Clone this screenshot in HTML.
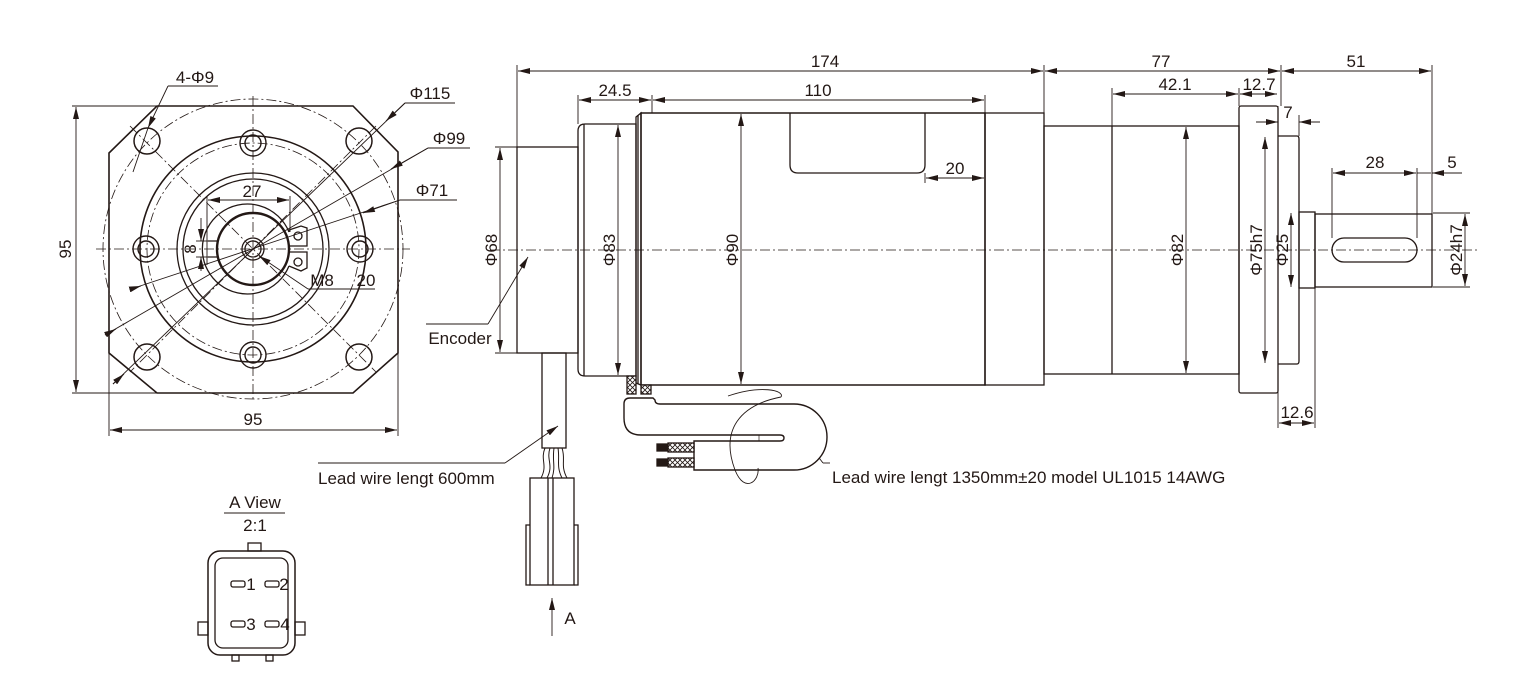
<!DOCTYPE html>
<html><head><meta charset="utf-8"><style>
html,body{margin:0;padding:0;background:#fff;}
svg{display:block;}
text{font-family:"Liberation Sans Narrow","Liberation Sans",sans-serif;font-size:17px;fill:#231815;}
</style></head><body>
<svg width="1517" height="695" viewBox="0 0 1517 695" xmlns="http://www.w3.org/2000/svg">
<defs>
<marker id="a" viewBox="0 0 12 6" refX="12" refY="3" markerWidth="12" markerHeight="6" orient="auto-start-reverse" markerUnits="userSpaceOnUse"><path d="M0,0L12,3L0,6z" fill="#231815"/></marker>
<pattern id="h" width="5" height="5" patternUnits="userSpaceOnUse"><rect width="5" height="5" fill="#fff"/><path d="M0,0L5,5M5,0L0,5" stroke="#231815" stroke-width="0.8"/></pattern>
</defs>
<g fill="none" stroke="#231815" stroke-width="1.3">
<!-- FRONT VIEW -->
<path d="M157,106 L353,106 L398,152 L398,353 L353,393 L157,393 L109,353 L109,153 Z" stroke-width="1.6"/>
<g stroke-width="0.8" stroke-dasharray="10,3,2,3">
<circle cx="253" cy="249" r="150"/>
<circle cx="253" cy="249" r="106"/>
<line x1="253" y1="96" x2="253" y2="402"/>
<line x1="96" y1="249" x2="410" y2="249"/>
<line x1="130" y1="126" x2="376" y2="372"/>
<line x1="376" y1="126" x2="130" y2="372"/>
</g>
<circle cx="253" cy="249" r="113" stroke-width="1.6"/>
<circle cx="253" cy="249" r="76"/>
<circle cx="253" cy="249" r="70"/>
<circle cx="253" cy="249" r="36" stroke-width="2.4"/>
<path d="M289,232 A45,45 0 1 0 289,266" />
<path d="M289,232 L289,230 L301,226 L307,228 L307,246 L289,246 M289,252 L307,252 L307,268 L301,271 L289,266"/>
<circle cx="298" cy="236" r="4"/><circle cx="298" cy="262" r="4"/>
<path d="M208,241 L218,241 M208,257 L218,257"/>
<circle cx="253" cy="249" r="11"/><circle cx="253" cy="249" r="8"/>
<g stroke-width="1.5">
<circle cx="147" cy="141" r="13"/><circle cx="359" cy="141" r="13"/>
<circle cx="147" cy="357" r="13"/><circle cx="359" cy="357" r="13"/>
</g>
<g stroke-width="1.4">
<circle cx="253" cy="143" r="13"/><circle cx="253" cy="143" r="8"/>
<circle cx="253" cy="355" r="13"/><circle cx="253" cy="355" r="8"/>
<circle cx="146" cy="249" r="13"/><circle cx="146" cy="249" r="8"/>
<circle cx="360" cy="249" r="13"/><circle cx="360" cy="249" r="8"/>
</g>
<!-- front dims -->
<g stroke-width="0.9">
<line x1="72" y1="106" x2="157" y2="106"/><line x1="72" y1="393" x2="157" y2="393"/>
<line x1="76" y1="107" x2="76" y2="392" marker-start="url(#a)" marker-end="url(#a)"/>
<line x1="109" y1="353" x2="109" y2="436"/><line x1="398" y1="353" x2="398" y2="436"/>
<line x1="110" y1="430" x2="397" y2="430" marker-start="url(#a)" marker-end="url(#a)"/>
<line x1="207" y1="196" x2="207" y2="265"/><line x1="290" y1="196" x2="290" y2="232"/>
<line x1="208" y1="200" x2="289" y2="200" marker-start="url(#a)" marker-end="url(#a)"/>
<line x1="196" y1="241" x2="208" y2="241"/><line x1="196" y1="257" x2="208" y2="257"/>
<line x1="201" y1="218" x2="201" y2="241" marker-end="url(#a)"/>
<line x1="201" y1="271" x2="201" y2="257" marker-end="url(#a)"/>
<line x1="168" y1="86" x2="218" y2="86"/>
<line x1="168" y1="86" x2="148" y2="128" marker-end="url(#a)"/>
<line x1="148" y1="128" x2="133" y2="172"/>
<line x1="405" y1="103" x2="455" y2="103"/>
<line x1="405" y1="103" x2="113" y2="384"/>
<line x1="405" y1="103" x2="386" y2="121" marker-end="url(#a)"/>
<line x1="428" y1="148" x2="470" y2="148"/>
<line x1="428" y1="148" x2="105" y2="335"/>
<line x1="428" y1="148" x2="391" y2="169" marker-end="url(#a)"/>
<line x1="400" y1="200" x2="457" y2="200"/>
<line x1="400" y1="200" x2="131" y2="289"/>
<line x1="400" y1="200" x2="363" y2="213" marker-end="url(#a)"/>
<line x1="308" y1="289" x2="375" y2="289"/>
<line x1="308" y1="289" x2="259" y2="256" marker-end="url(#a)"/>
<line x1="131" y1="289" x2="141" y2="286" marker-end="url(#a)"/>
<line x1="105" y1="335" x2="116" y2="329" marker-end="url(#a)"/>
<line x1="113" y1="384" x2="124" y2="374" marker-end="url(#a)"/>
</g>
<!-- A VIEW connector -->
<rect x="208" y="551" width="87" height="104" rx="12" stroke-width="1.5"/>
<rect x="215" y="558" width="73" height="90" rx="8"/>
<rect x="248" y="543" width="13" height="8"/>
<rect x="198" y="622" width="10" height="13"/><rect x="295" y="622" width="10" height="13"/>
<rect x="232" y="655" width="7" height="6"/><rect x="266" y="655" width="7" height="6"/>
<rect x="231" y="581" width="14" height="6" rx="2"/><rect x="265" y="581" width="14" height="6" rx="2"/>
<rect x="231" y="621" width="14" height="6" rx="2"/><rect x="265" y="621" width="14" height="6" rx="2"/>
<line x1="224" y1="513" x2="285" y2="513" stroke-width="0.9"/>
<!-- SIDE VIEW -->
<g stroke-width="0.8" stroke-dasharray="10,3,2,3"><line x1="490" y1="250" x2="1480" y2="250"/></g>
<rect x="517" y="147" width="61" height="206"/>
<path d="M636,124 L585,124 Q578,124 578,131 L578,369 Q578,376 585,376 L636,376 Z"/>
<line x1="584" y1="124" x2="584" y2="376"/>
<path d="M636,117 L641,113 L641,385 L636,383 Z"/>
<line x1="638" y1="115" x2="638" y2="384"/>
<rect x="641" y="113" width="344" height="272" stroke-width="1.5"/>
<path d="M790,113 L790,165 Q790,173 798,173 L917,173 Q925,173 925,165 L925,113"/>
<rect x="985" y="113" width="59" height="272"/>
<line x1="1031" y1="113" x2="1031" y2="385" stroke-width="0"/>
<rect x="1044" y="126" width="195" height="248"/>
<line x1="1112" y1="126" x2="1112" y2="374"/>
<rect x="1239" y="106" width="39" height="287" rx="2"/>
<path d="M1278,136 L1297,136 Q1299,136 1299,139 L1299,361 Q1299,364 1297,364 L1278,364"/>
<rect x="1299" y="212" width="16" height="76"/>
<rect x="1315" y="214" width="117" height="73"/>
<rect x="1332" y="238" width="85" height="24" rx="12"/>
<!-- side dims -->
<g stroke-width="0.9">
<line x1="517" y1="65" x2="517" y2="147"/><line x1="1044" y1="65" x2="1044" y2="113"/>
<line x1="1281" y1="65" x2="1281" y2="106"/><line x1="1432" y1="65" x2="1432" y2="214"/>
<line x1="518" y1="71" x2="1043" y2="71" marker-start="url(#a)" marker-end="url(#a)"/>
<line x1="1045" y1="71" x2="1280" y2="71" marker-start="url(#a)" marker-end="url(#a)"/>
<line x1="1282" y1="71" x2="1431" y2="71" marker-start="url(#a)" marker-end="url(#a)"/>
<line x1="578" y1="95" x2="578" y2="124"/><line x1="652" y1="95" x2="652" y2="113"/>
<line x1="985" y1="95" x2="985" y2="113"/>
<line x1="579" y1="100" x2="651" y2="100" marker-start="url(#a)" marker-end="url(#a)"/>
<line x1="653" y1="100" x2="984" y2="100" marker-start="url(#a)" marker-end="url(#a)"/>
<line x1="1112" y1="88" x2="1112" y2="126"/><line x1="1239" y1="88" x2="1239" y2="106"/>
<line x1="1113" y1="94" x2="1238" y2="94" marker-start="url(#a)" marker-end="url(#a)"/>
<line x1="1240" y1="94" x2="1277" y2="94" marker-start="url(#a)" marker-end="url(#a)"/>
<line x1="1278" y1="106" x2="1278" y2="210"/><line x1="1278" y1="288" x2="1278" y2="428"/>
<line x1="1299" y1="115" x2="1299" y2="136"/>
<line x1="1256" y1="122" x2="1278" y2="122" marker-end="url(#a)"/>
<line x1="1320" y1="122" x2="1299" y2="122" marker-end="url(#a)"/>
<line x1="1332" y1="168" x2="1332" y2="238"/><line x1="1417" y1="168" x2="1417" y2="238"/>
<line x1="1333" y1="173" x2="1416" y2="173" marker-start="url(#a)" marker-end="url(#a)"/>
<line x1="1417" y1="173" x2="1431" y2="173"/>
<line x1="1462" y1="173" x2="1432" y2="173" marker-end="url(#a)"/>
<line x1="1433" y1="213" x2="1470" y2="213"/><line x1="1433" y1="287" x2="1470" y2="287"/>
<line x1="1465" y1="214" x2="1465" y2="286" marker-start="url(#a)" marker-end="url(#a)"/>
<line x1="1291" y1="213" x2="1291" y2="287" marker-start="url(#a)" marker-end="url(#a)"/>
<line x1="1265" y1="137" x2="1265" y2="363" marker-start="url(#a)" marker-end="url(#a)"/>
<line x1="1186" y1="127" x2="1186" y2="373" marker-start="url(#a)" marker-end="url(#a)"/>
<line x1="1315" y1="288" x2="1315" y2="428"/>
<line x1="1279" y1="423" x2="1314" y2="423" marker-start="url(#a)" marker-end="url(#a)"/>
<line x1="741" y1="114" x2="741" y2="384" marker-start="url(#a)" marker-end="url(#a)"/>
<line x1="618" y1="125" x2="618" y2="375" marker-start="url(#a)" marker-end="url(#a)"/>
<line x1="495" y1="147" x2="517" y2="147"/><line x1="495" y1="353" x2="517" y2="353"/>
<line x1="500" y1="148" x2="500" y2="352" marker-start="url(#a)" marker-end="url(#a)"/>
<line x1="925" y1="173" x2="925" y2="183"/>
<line x1="926" y1="178" x2="984" y2="178" marker-start="url(#a)" marker-end="url(#a)"/>
<line x1="426" y1="324" x2="488" y2="324"/>
<line x1="488" y1="324" x2="528" y2="257" marker-end="url(#a)"/>
<line x1="318" y1="463" x2="505" y2="463"/>
<line x1="505" y1="463" x2="558" y2="426" marker-end="url(#a)"/>
<line x1="830" y1="463" x2="823" y2="463"/>
<line x1="823" y1="463" x2="793" y2="424" marker-end="url(#a)"/>
<line x1="552" y1="636" x2="552" y2="598" marker-end="url(#a)"/>
</g>
<!-- encoder cable -->
<rect x="542" y="353" width="24" height="95"/>
<path d="M545,448 C540,460 548,465 541,478 M550,448 C546,460 554,465 547,478 M554,448 C552,462 556,466 552,478 M558,448 C560,460 556,466 562,478 M562,448 C566,460 560,465 567,478" stroke-width="1"/>
<rect x="530" y="478" width="44" height="107"/>
<line x1="548" y1="478" x2="548" y2="585"/><line x1="553" y1="478" x2="553" y2="585"/>
<path d="M530,525 L526,525 L526,585 L530,585 M574,525 L578,525 L578,585 L574,585"/>
<!-- motor cable -->
<rect x="627" y="376" width="9" height="18" fill="url(#h)"/>
<rect x="641" y="385" width="10" height="9" fill="url(#h)"/>
<path d="M653,398 L630,398 Q624,398 624,404 L624,418 Q624,435 641,435 L780,435 Q784,435 784,438 Q784,441 780,441 L694,441 L694,470 L794,470 A33,33 0 0 0 794,404 L660,404 Q655,404 655,400 Z" fill="#fff" stroke-width="1.4"/>
<line x1="759" y1="435" x2="759" y2="441" stroke-width="0.7"/>
<rect x="668" y="443" width="26" height="9" fill="url(#h)"/>
<rect x="668" y="458" width="26" height="9" fill="url(#h)"/>
<rect x="657" y="444" width="11" height="7" fill="#231815"/>
<rect x="657" y="459" width="11" height="7" fill="#231815"/>
<path d="M728,396 C760,385 785,390 781,397 M781,397 C740,405 720,430 735,470 C745,495 760,480 758,468" stroke-width="0.9"/>
</g>
<!-- TEXT -->
<text x="195" y="83" text-anchor="middle">4-Φ9</text>
<text x="430" y="99" text-anchor="middle">Φ115</text>
<text x="449" y="144" text-anchor="middle">Φ99</text>
<text x="432" y="196" text-anchor="middle">Φ71</text>
<text x="252" y="197" text-anchor="middle">27</text>
<text x="322" y="286" text-anchor="middle">M8</text>
<text x="366" y="286" text-anchor="middle">20</text>
<text transform="translate(196,249) rotate(-90)" text-anchor="middle">8</text>
<text transform="translate(71,249) rotate(-90)" text-anchor="middle">95</text>
<text x="253" y="425" text-anchor="middle">95</text>
<text x="460" y="344" text-anchor="middle">Encoder</text>
<text x="318" y="484">Lead wire lengt 600mm</text>
<text x="832" y="483">Lead wire lengt 1350mm±20 model UL1015 14AWG</text>
<text x="255" y="508" text-anchor="middle">A View</text>
<text x="255" y="531" text-anchor="middle">2:1</text>
<text x="251" y="590" text-anchor="middle">1</text><text x="284" y="590" text-anchor="middle">2</text>
<text x="251" y="630" text-anchor="middle">3</text><text x="285" y="630" text-anchor="middle">4</text>
<text x="570" y="624" text-anchor="middle">A</text>
<text x="825" y="67" text-anchor="middle">174</text>
<text x="1161" y="67" text-anchor="middle">77</text>
<text x="1356" y="67" text-anchor="middle">51</text>
<text x="615" y="96" text-anchor="middle">24.5</text>
<text x="818" y="96" text-anchor="middle">110</text>
<text x="1175" y="90" text-anchor="middle">42.1</text>
<text x="1259" y="90" text-anchor="middle">12.7</text>
<text x="1288" y="118" text-anchor="middle">7</text>
<text x="1375" y="168" text-anchor="middle">28</text>
<text x="1452" y="168" text-anchor="middle">5</text>
<text x="955" y="174" text-anchor="middle">20</text>
<text x="1297" y="418" text-anchor="middle">12.6</text>
<text transform="translate(497,250) rotate(-90)" text-anchor="middle">Φ68</text>
<text transform="translate(615,250) rotate(-90)" text-anchor="middle">Φ83</text>
<text transform="translate(738,250) rotate(-90)" text-anchor="middle">Φ90</text>
<text transform="translate(1183,250) rotate(-90)" text-anchor="middle">Φ82</text>
<text transform="translate(1262,250) rotate(-90)" text-anchor="middle">Φ75h7</text>
<text transform="translate(1288,250) rotate(-90)" text-anchor="middle">Φ25</text>
<text transform="translate(1462,250) rotate(-90)" text-anchor="middle">Φ24h7</text>
</svg>
</body></html>
